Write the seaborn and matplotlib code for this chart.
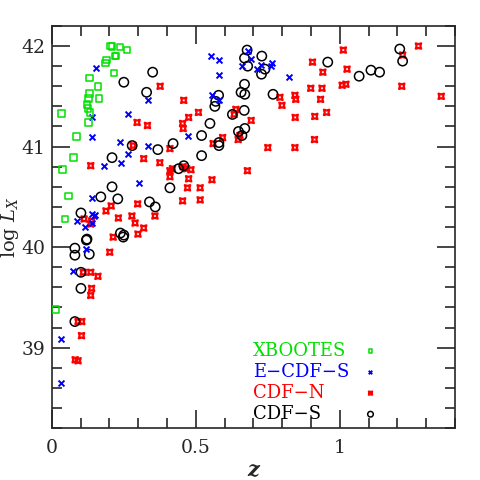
import numpy as np
import pandas as pd
import matplotlib
matplotlib.use('Agg')
import matplotlib.pyplot as plt
from matplotlib.ticker import MultipleLocator
from matplotlib.lines import Line2D
import seaborn as sns

# XBOOTES
z_xb = [0.204, 0.209, 0.237, 0.261, 0.219, 0.222, 0.190, 0.186, 0.215, 0.130,
        0.160, 0.130, 0.164, 0.127, 0.122, 0.126, 0.132, 0.034, 0.127, 0.086,
        0.075, 0.037, 0.057, 0.046, 0.013]
L_xb = [42.00, 41.995, 41.99, 41.96, 41.90, 41.90, 41.86, 41.83, 41.73, 41.68,
        41.60, 41.53, 41.48, 41.48, 41.42, 41.38, 41.34, 41.33, 41.24, 41.10,
        40.89, 40.77, 40.51, 40.28, 39.38]

# E-CDF-S
z_ec = [0.152, 0.139, 0.265, 0.333, 0.139, 0.236, 0.334, 0.263, 0.241, 0.182,
        0.302, 0.139, 0.140, 0.150, 0.146, 0.086, 0.115, 0.139, 0.473, 0.554,
        0.579, 0.579, 0.557, 0.581, 0.681, 0.690, 0.660, 0.711, 0.726, 0.760,
        0.765, 0.823, 0.117, 0.075, 0.031, 0.031]
L_ec = [41.78, 41.29, 41.32, 41.46, 41.10, 41.05, 41.01, 40.93, 40.84, 40.81,
        40.64, 40.49, 40.33, 40.32, 40.31, 40.26, 40.20, 40.24, 41.11, 41.90,
        41.86, 41.71, 41.51, 41.46, 41.95, 41.87, 41.80, 41.77, 41.81, 41.80,
        41.83, 41.69, 39.98, 39.76, 39.09, 38.65]

# CDF-N
z_cn = [0.376, 0.458, 0.509, 0.475, 0.296, 0.332, 0.454, 0.456, 0.639, 0.633,
        0.692, 0.593, 0.560, 0.647, 0.750, 0.410, 0.282, 0.319, 0.375, 0.135,
        0.410, 0.419, 0.456, 0.468, 0.483, 0.679, 0.556, 0.475, 0.410, 0.471,
        0.515, 0.454, 0.515, 0.298, 0.206, 0.188, 0.231, 0.278, 0.289, 0.319,
        0.358, 0.138, 0.299, 0.213, 1.012, 0.905, 0.941, 1.025, 0.899, 0.938,
        1.008, 1.021, 0.844, 0.847, 0.792, 0.799, 0.933, 0.954, 0.845, 0.913,
        0.912, 0.844, 1.218, 1.273, 1.215, 1.352, 0.653, 0.135, 0.112, 0.201,
        0.135, 0.160, 0.138, 0.135, 0.109, 0.091, 0.104, 0.103, 0.081, 0.091]
L_cn = [41.60, 41.46, 41.34, 41.29, 41.24, 41.21, 41.23, 41.18, 41.37, 41.32,
        41.26, 41.09, 41.03, 41.07, 40.99, 40.98, 41.01, 40.88, 40.84, 40.81,
        40.76, 40.78, 40.80, 40.78, 40.77, 40.76, 40.67, 40.68, 40.70, 40.59,
        40.59, 40.46, 40.47, 40.43, 40.41, 40.36, 40.29, 40.31, 40.24, 40.19,
        40.31, 40.26, 40.13, 40.10, 41.96, 41.84, 41.74, 41.77, 41.58, 41.58,
        41.61, 41.62, 41.51, 41.47, 41.49, 41.41, 41.47, 41.34, 41.29, 41.30,
        41.07, 40.99, 41.91, 42.00, 41.60, 41.50, 41.11, 40.23, 40.28, 39.95,
        39.75, 39.71, 39.59, 39.52, 39.75, 39.26, 39.26, 39.12, 38.88, 38.87]

# CDF-S
z_cs = [0.350, 0.250, 0.329, 0.279, 0.209, 0.368, 0.421, 0.520, 0.520, 0.440,
        0.458, 0.410, 0.209, 0.170, 0.229, 0.339, 0.359, 0.101, 0.122, 0.238,
        0.250, 0.248, 0.549, 0.580, 0.580, 0.579, 0.569, 0.566, 0.627, 0.668,
        0.648, 0.660, 0.670, 0.669, 0.657, 0.670, 0.678, 0.669, 0.680, 0.729,
        0.740, 0.728, 0.768, 0.958, 1.067, 1.108, 1.138, 1.208, 1.218, 0.120,
        0.080, 0.080, 0.130, 0.101, 0.101, 0.080]
L_cs = [41.74, 41.64, 41.54, 41.01, 40.89, 40.97, 41.03, 41.11, 40.91, 40.78,
        40.81, 40.59, 40.60, 40.50, 40.48, 40.45, 40.40, 40.34, 40.08, 40.14,
        40.12, 40.10, 41.23, 41.04, 41.01, 41.51, 41.45, 41.40, 41.32, 41.36,
        41.15, 41.11, 41.18, 41.62, 41.54, 41.52, 41.96, 41.88, 41.80, 41.90,
        41.77, 41.72, 41.52, 41.84, 41.70, 41.76, 41.74, 41.97, 41.85, 40.07,
        39.99, 39.92, 39.93, 39.75, 39.59, 39.26]

surveys = ['XBOOTES', 'E\u2212CDF\u2212S', 'CDF\u2212N', 'CDF\u2212S']
colors = ['#00e000', 'blue', 'red', 'black']

sns.set_style('ticks')
plt.rcParams['font.family'] = ['DejaVu Serif']
plt.rcParams['mathtext.fontset'] = 'dejavuserif'

fig = plt.figure(figsize=(4.8, 4.8), dpi=100)
ax = fig.add_axes([0.108, 0.108, 0.84, 0.838])

red_star = (4, 1, 45)
sns.scatterplot(x=z_cn, y=L_cn, ax=ax, marker=red_star, s=30, color='none',
                edgecolor='red', linewidth=1.6, label=surveys[2], zorder=2)
sns.scatterplot(x=z_cs, y=L_cs, ax=ax, marker='o', s=45, facecolor='none',
                edgecolor='black', linewidth=1.1, label=surveys[3], zorder=3)
sns.scatterplot(x=z_ec, y=L_ec, ax=ax, marker='x', s=18, color='blue',
                linewidth=1.4, label=surveys[1], zorder=4)
sns.scatterplot(x=z_xb, y=L_xb, ax=ax, marker='s', s=22, facecolor='none',
                edgecolor='#00e000', linewidth=1.1, label=surveys[0], zorder=5)

ax.set_xlim(0, 1.4)
ax.set_ylim(38.2, 42.2)
ax.xaxis.set_major_locator(MultipleLocator(0.5))
ax.xaxis.set_minor_locator(MultipleLocator(0.1))
ax.yaxis.set_major_locator(MultipleLocator(1))
ax.yaxis.set_minor_locator(MultipleLocator(0.2))
ax.set_xticks([0, 0.5, 1], ['0', '0.5', '1'])
ax.tick_params(which='both', direction='in', top=True, right=True,
               width=1.2, labelsize=13.5)
ax.tick_params(axis='x', pad=8)
ax.tick_params(axis='y', pad=5)
ax.tick_params(which='major', length=13)
ax.tick_params(which='minor', length=7)
for sp in ax.spines.values():
    sp.set_linewidth(1.2)
ax.set_xlabel('z', fontsize=15, fontweight='bold', style='italic', labelpad=2)
ax.set_ylabel('log $L_X$', fontsize=14, labelpad=0)

# legend: coloured names on the left, small markers in a column to the right
handles, labels = ax.get_legend_handles_labels()
hmap = dict(zip(labels, handles))
blank = [Line2D([], [], linestyle='none') for _ in surveys]
leg1 = ax.legend(blank, surveys, frameon=False, loc='lower left',
                 bbox_to_anchor=(0.48, -0.005), fontsize=13, handlelength=0,
                 handletextpad=0, labelspacing=0.17, labelcolor=colors,
                 borderaxespad=0)
ax.add_artist(leg1)
leg2 = ax.legend([hmap[k] for k in surveys], ['', '', '', ''], frameon=False,
                 loc='lower left', bbox_to_anchor=(0.75, -0.005), fontsize=13,
                 markerscale=0.6, handlelength=1.0, handletextpad=0,
                 labelspacing=0.17, borderaxespad=0)

fig.savefig('out.png', dpi=100)
